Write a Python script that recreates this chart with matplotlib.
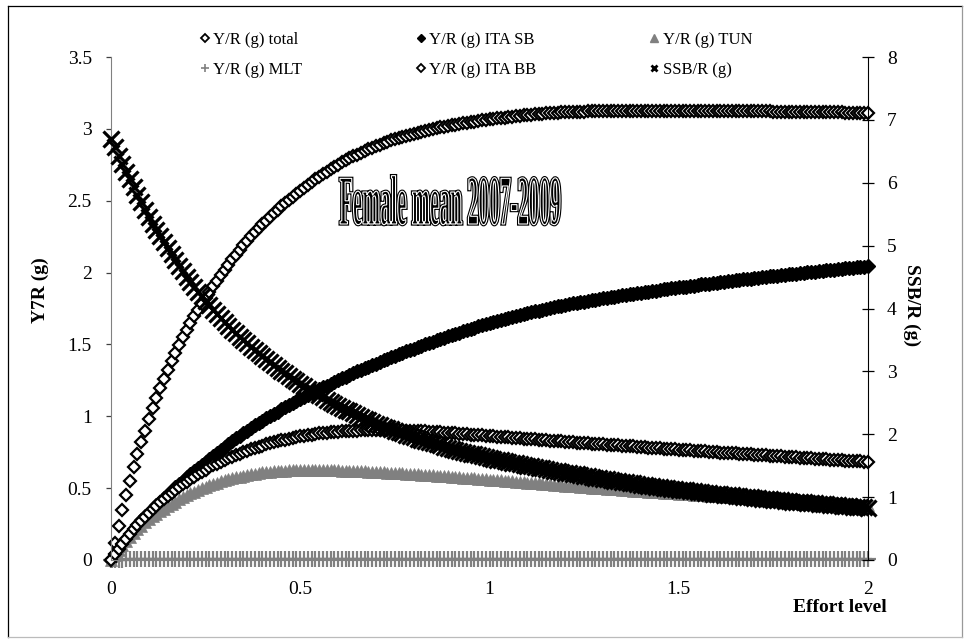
import numpy as np
import matplotlib
matplotlib.use("Agg")
import matplotlib.pyplot as plt
import matplotlib.patheffects as pe
from matplotlib.lines import Line2D
from matplotlib.textpath import TextPath
from matplotlib.patches import PathPatch
from matplotlib.font_manager import FontProperties
from matplotlib.transforms import Affine2D

plt.rcParams['font.family'] = ['Liberation Serif', 'DejaVu Serif']

W, H = 969, 639

# effort level grid, 0 .. 2 by 0.01
effort_level = np.linspace(0, 2, 201)

yr_total = [
    0.000, 0.120, 0.235, 0.345, 0.450, 0.550, 0.645, 0.735, 0.820, 0.900,
    0.980, 1.055, 1.125, 1.195, 1.260, 1.325, 1.385, 1.440, 1.495, 1.550,
    1.600, 1.648, 1.695, 1.740, 1.783, 1.825, 1.865, 1.905, 1.944, 1.982,
    2.020, 2.056, 2.091, 2.125, 2.158, 2.190, 2.221, 2.251, 2.280, 2.308,
    2.335, 2.361, 2.387, 2.412, 2.436, 2.460, 2.483, 2.506, 2.528, 2.550,
    2.571, 2.591, 2.611, 2.630, 2.649, 2.667, 2.685, 2.702, 2.719, 2.735,
    2.751, 2.766, 2.780, 2.794, 2.808, 2.821, 2.834, 2.846, 2.858, 2.869,
    2.880, 2.890, 2.900, 2.910, 2.919, 2.928, 2.937, 2.945, 2.953, 2.960,
    2.967, 2.974, 2.980, 2.986, 2.992, 2.998, 3.004, 3.010, 3.015, 3.020,
    3.025, 3.030, 3.035, 3.039, 3.043, 3.047, 3.051, 3.055, 3.059, 3.063,
    3.067, 3.070, 3.073, 3.076, 3.079, 3.082, 3.085, 3.088, 3.091, 3.094,
    3.097, 3.099, 3.101, 3.103, 3.105, 3.107, 3.109, 3.111, 3.113, 3.115,
    3.117, 3.118, 3.118, 3.119, 3.120, 3.120, 3.121, 3.121, 3.122, 3.122,
    3.123, 3.123, 3.124, 3.124, 3.124, 3.125, 3.125, 3.125, 3.125, 3.126,
    3.126, 3.126, 3.126, 3.126, 3.126, 3.126, 3.126, 3.126, 3.126, 3.126,
    3.126, 3.126, 3.126, 3.126, 3.125, 3.125, 3.125, 3.125, 3.124, 3.124,
    3.124, 3.124, 3.124, 3.123, 3.123, 3.123, 3.123, 3.122, 3.122, 3.122,
    3.122, 3.122, 3.121, 3.121, 3.121, 3.120, 3.120, 3.120, 3.119, 3.119,
    3.119, 3.119, 3.118, 3.118, 3.117, 3.117, 3.117, 3.116, 3.116, 3.115,
    3.115, 3.115, 3.114, 3.114, 3.113, 3.113, 3.113, 3.112, 3.112, 3.111,
    3.111,
]

yr_ita_sb = [
    0.000, 0.039, 0.077, 0.114, 0.149, 0.183, 0.215, 0.246, 0.275, 0.303,
    0.330, 0.356, 0.382, 0.407, 0.432, 0.457, 0.481, 0.505, 0.529, 0.552,
    0.575, 0.598, 0.620, 0.642, 0.664, 0.685, 0.706, 0.727, 0.748, 0.768,
    0.788, 0.808, 0.827, 0.846, 0.865, 0.883, 0.901, 0.919, 0.936, 0.953,
    0.970, 0.986, 1.002, 1.018, 1.033, 1.048, 1.063, 1.078, 1.093, 1.107,
    1.121, 1.135, 1.149, 1.162, 1.175, 1.188, 1.201, 1.214, 1.227, 1.240,
    1.252, 1.264, 1.276, 1.288, 1.300, 1.312, 1.323, 1.334, 1.345, 1.356,
    1.367, 1.378, 1.389, 1.399, 1.410, 1.420, 1.431, 1.441, 1.451, 1.461,
    1.471, 1.481, 1.491, 1.500, 1.510, 1.519, 1.529, 1.538, 1.547, 1.556,
    1.565, 1.574, 1.582, 1.591, 1.600, 1.608, 1.616, 1.625, 1.633, 1.641,
    1.649, 1.656, 1.663, 1.671, 1.678, 1.685, 1.692, 1.698, 1.705, 1.712,
    1.718, 1.724, 1.730, 1.736, 1.742, 1.748, 1.754, 1.759, 1.765, 1.770,
    1.776, 1.780, 1.785, 1.789, 1.794, 1.798, 1.803, 1.807, 1.812, 1.816,
    1.821, 1.825, 1.829, 1.833, 1.837, 1.841, 1.845, 1.849, 1.853, 1.857,
    1.861, 1.865, 1.868, 1.872, 1.875, 1.879, 1.883, 1.886, 1.890, 1.893,
    1.897, 1.900, 1.903, 1.907, 1.910, 1.913, 1.917, 1.920, 1.923, 1.927,
    1.930, 1.933, 1.936, 1.939, 1.942, 1.946, 1.949, 1.952, 1.955, 1.958,
    1.961, 1.964, 1.967, 1.970, 1.973, 1.975, 1.978, 1.981, 1.984, 1.987,
    1.990, 1.993, 1.996, 1.998, 2.001, 2.004, 2.007, 2.010, 2.012, 2.015,
    2.018, 2.021, 2.023, 2.026, 2.029, 2.031, 2.034, 2.037, 2.040, 2.042,
    2.045,
]

yr_tun = [
    0.000, 0.036, 0.070, 0.102, 0.133, 0.162, 0.189, 0.215, 0.239, 0.262,
    0.283, 0.303, 0.322, 0.340, 0.358, 0.375, 0.391, 0.407, 0.422, 0.436,
    0.450, 0.463, 0.476, 0.488, 0.499, 0.510, 0.520, 0.529, 0.538, 0.547,
    0.555, 0.562, 0.569, 0.575, 0.581, 0.587, 0.592, 0.597, 0.601, 0.605,
    0.609, 0.612, 0.615, 0.617, 0.619, 0.621, 0.622, 0.623, 0.624, 0.625,
    0.625, 0.626, 0.626, 0.626, 0.626, 0.625, 0.625, 0.625, 0.624, 0.624,
    0.623, 0.622, 0.621, 0.620, 0.619, 0.618, 0.617, 0.616, 0.615, 0.614,
    0.613, 0.611, 0.610, 0.608, 0.607, 0.605, 0.604, 0.602, 0.601, 0.599,
    0.598, 0.596, 0.594, 0.592, 0.591, 0.589, 0.587, 0.585, 0.584, 0.582,
    0.580, 0.578, 0.576, 0.574, 0.572, 0.570, 0.568, 0.566, 0.564, 0.562,
    0.560, 0.558, 0.556, 0.554, 0.551, 0.549, 0.547, 0.545, 0.543, 0.541,
    0.539, 0.537, 0.535, 0.533, 0.530, 0.528, 0.526, 0.524, 0.522, 0.520,
    0.518, 0.516, 0.514, 0.512, 0.510, 0.508, 0.506, 0.504, 0.502, 0.500,
    0.498, 0.496, 0.494, 0.492, 0.491, 0.489, 0.487, 0.485, 0.483, 0.481,
    0.479, 0.477, 0.476, 0.474, 0.472, 0.470, 0.468, 0.467, 0.465, 0.463,
    0.461, 0.459, 0.458, 0.456, 0.454, 0.453, 0.451, 0.449, 0.448, 0.446,
    0.444, 0.442, 0.441, 0.439, 0.438, 0.436, 0.434, 0.433, 0.431, 0.430,
    0.428, 0.427, 0.425, 0.424, 0.422, 0.421, 0.419, 0.418, 0.416, 0.415,
    0.413, 0.412, 0.410, 0.409, 0.407, 0.406, 0.404, 0.403, 0.401, 0.400,
    0.398, 0.397, 0.395, 0.394, 0.393, 0.391, 0.390, 0.388, 0.387, 0.386,
    0.384,
]

yr_mlt = [
    0.000, 0.001, 0.002, 0.003, 0.004, 0.005, 0.005, 0.006, 0.006, 0.007,
    0.007, 0.007, 0.008, 0.008, 0.008, 0.008, 0.008, 0.008, 0.008, 0.008,
    0.008, 0.008, 0.008, 0.008, 0.008, 0.008, 0.008, 0.008, 0.008, 0.008,
    0.009, 0.009, 0.009, 0.009, 0.009, 0.009, 0.009, 0.009, 0.009, 0.009,
    0.009, 0.009, 0.009, 0.009, 0.009, 0.009, 0.009, 0.009, 0.009, 0.009,
    0.009, 0.009, 0.009, 0.009, 0.009, 0.009, 0.009, 0.009, 0.009, 0.009,
    0.009, 0.009, 0.009, 0.009, 0.009, 0.009, 0.009, 0.009, 0.009, 0.009,
    0.009, 0.009, 0.009, 0.009, 0.009, 0.009, 0.009, 0.009, 0.009, 0.009,
    0.009, 0.009, 0.009, 0.009, 0.009, 0.009, 0.009, 0.009, 0.009, 0.009,
    0.009, 0.009, 0.009, 0.009, 0.009, 0.009, 0.009, 0.009, 0.009, 0.009,
    0.009, 0.009, 0.009, 0.009, 0.009, 0.009, 0.009, 0.009, 0.009, 0.009,
    0.009, 0.009, 0.009, 0.009, 0.009, 0.009, 0.009, 0.009, 0.009, 0.009,
    0.008, 0.008, 0.008, 0.008, 0.008, 0.008, 0.008, 0.008, 0.008, 0.008,
    0.008, 0.008, 0.008, 0.008, 0.008, 0.008, 0.008, 0.008, 0.008, 0.008,
    0.008, 0.008, 0.008, 0.008, 0.008, 0.008, 0.008, 0.008, 0.008, 0.008,
    0.008, 0.008, 0.008, 0.008, 0.008, 0.008, 0.008, 0.008, 0.008, 0.008,
    0.008, 0.008, 0.008, 0.008, 0.008, 0.008, 0.008, 0.008, 0.008, 0.008,
    0.008, 0.008, 0.008, 0.008, 0.008, 0.008, 0.008, 0.008, 0.008, 0.008,
    0.008, 0.008, 0.008, 0.008, 0.008, 0.008, 0.008, 0.008, 0.008, 0.008,
    0.008, 0.008, 0.008, 0.008, 0.008, 0.008, 0.008, 0.008, 0.008, 0.008,
    0.008,
]

yr_ita_bb = [
    0.000, 0.039, 0.077, 0.113, 0.148, 0.181, 0.213, 0.243, 0.272, 0.300,
    0.327, 0.353, 0.378, 0.402, 0.425, 0.447, 0.468, 0.489, 0.509, 0.528,
    0.546, 0.564, 0.581, 0.598, 0.614, 0.629, 0.644, 0.658, 0.671, 0.684,
    0.696, 0.708, 0.719, 0.730, 0.741, 0.751, 0.761, 0.770, 0.779, 0.788,
    0.796, 0.804, 0.811, 0.818, 0.825, 0.832, 0.838, 0.844, 0.850, 0.855,
    0.860, 0.865, 0.869, 0.873, 0.877, 0.881, 0.884, 0.887, 0.890, 0.892,
    0.894, 0.896, 0.898, 0.899, 0.900, 0.901, 0.902, 0.903, 0.903, 0.904,
    0.904, 0.904, 0.904, 0.904, 0.903, 0.903, 0.902, 0.902, 0.901, 0.900,
    0.899, 0.898, 0.896, 0.895, 0.893, 0.892, 0.890, 0.888, 0.886, 0.885,
    0.883, 0.881, 0.879, 0.877, 0.875, 0.873, 0.871, 0.869, 0.867, 0.865,
    0.863, 0.861, 0.859, 0.857, 0.855, 0.853, 0.851, 0.849, 0.847, 0.845,
    0.843, 0.841, 0.839, 0.837, 0.835, 0.833, 0.831, 0.829, 0.827, 0.825,
    0.823, 0.821, 0.819, 0.817, 0.815, 0.814, 0.812, 0.810, 0.808, 0.806,
    0.804, 0.802, 0.800, 0.799, 0.797, 0.795, 0.793, 0.791, 0.790, 0.788,
    0.786, 0.784, 0.782, 0.781, 0.779, 0.777, 0.775, 0.773, 0.772, 0.770,
    0.768, 0.766, 0.764, 0.763, 0.761, 0.759, 0.757, 0.755, 0.754, 0.752,
    0.750, 0.748, 0.747, 0.745, 0.743, 0.742, 0.740, 0.738, 0.737, 0.735,
    0.733, 0.731, 0.730, 0.728, 0.726, 0.725, 0.723, 0.721, 0.720, 0.718,
    0.716, 0.714, 0.713, 0.711, 0.709, 0.708, 0.706, 0.704, 0.703, 0.701,
    0.699, 0.697, 0.696, 0.694, 0.692, 0.691, 0.689, 0.687, 0.686, 0.684,
    0.682,
]

# SSB/R (g), secondary axis
ssb_r = [
    6.700, 6.565, 6.433, 6.304, 6.177, 6.052, 5.929, 5.808, 5.688, 5.568,
    5.450, 5.345, 5.244, 5.146, 5.050, 4.955, 4.862, 4.770, 4.679, 4.589,
    4.500, 4.421, 4.344, 4.269, 4.196, 4.124, 4.053, 3.983, 3.914, 3.846,
    3.780, 3.722, 3.665, 3.609, 3.554, 3.500, 3.446, 3.393, 3.341, 3.290,
    3.240, 3.193, 3.147, 3.102, 3.057, 3.013, 2.969, 2.926, 2.883, 2.841,
    2.800, 2.763, 2.727, 2.691, 2.656, 2.621, 2.586, 2.552, 2.518, 2.484,
    2.450, 2.420, 2.391, 2.362, 2.334, 2.306, 2.278, 2.250, 2.223, 2.196,
    2.170, 2.146, 2.123, 2.100, 2.078, 2.056, 2.034, 2.013, 1.992, 1.971,
    1.950, 1.931, 1.912, 1.894, 1.876, 1.858, 1.840, 1.822, 1.804, 1.787,
    1.770, 1.754, 1.738, 1.723, 1.708, 1.693, 1.678, 1.663, 1.648, 1.634,
    1.620, 1.608, 1.596, 1.584, 1.572, 1.560, 1.548, 1.536, 1.524, 1.512,
    1.500, 1.489, 1.478, 1.467, 1.456, 1.445, 1.434, 1.423, 1.412, 1.401,
    1.390, 1.380, 1.370, 1.360, 1.350, 1.340, 1.330, 1.320, 1.310, 1.300,
    1.290, 1.281, 1.272, 1.263, 1.254, 1.245, 1.236, 1.227, 1.218, 1.209,
    1.200, 1.192, 1.184, 1.176, 1.168, 1.160, 1.152, 1.144, 1.136, 1.128,
    1.120, 1.113, 1.106, 1.099, 1.092, 1.085, 1.078, 1.071, 1.064, 1.057,
    1.050, 1.044, 1.038, 1.032, 1.026, 1.020, 1.014, 1.008, 1.002, 0.996,
    0.990, 0.984, 0.978, 0.972, 0.966, 0.960, 0.954, 0.948, 0.942, 0.936,
    0.930, 0.925, 0.920, 0.915, 0.910, 0.905, 0.900, 0.895, 0.890, 0.885,
    0.880, 0.875, 0.870, 0.865, 0.860, 0.855, 0.850, 0.845, 0.840, 0.835,
    0.830,
]

x_ticks = [0, 0.5, 1, 1.5, 2]
x_tick_labels = ['0', '0.5', '1', '1.5', '2']
left_ticks = [0, 0.5, 1, 1.5, 2, 2.5, 3, 3.5]
left_tick_labels = ['0', '0.5', '1', '1.5', '2', '2.5', '3', '3.5']
right_ticks = [0, 1, 2, 3, 4, 5, 6, 7, 8]

labels = ['Y/R (g) total', 'Y/R (g) MLT', 'Y/R (g) ITA SB',
          'Y/R (g) ITA BB', 'Y/R (g) TUN', 'SSB/R (g)']

GRAY = '#808080'

fig = plt.figure(figsize=(W / 100, H / 100), dpi=100)
ax = fig.add_axes([111 / W, 79 / H, 757 / W, 503 / H])
ax2 = ax.twinx()

# primary axis series
ax.plot(effort_level, yr_total, ls='none', marker='D', ms=6.6, mfc='white',
        mec='black', mew=1.6, clip_on=False)
ax.plot(effort_level, yr_ita_sb, ls='none', marker='D', ms=7.2, mfc='black',
        mec='black', mew=1.0, clip_on=False)
ax.plot(effort_level, yr_tun, ls='none', marker='^', ms=9, mfc=GRAY,
        mec=GRAY, mew=0.5, clip_on=False)
ax.plot(effort_level, yr_mlt, ls='none', marker='+', ms=11.5, mec=GRAY,
        mew=1.6, clip_on=False)
ax.plot(effort_level, yr_ita_bb, ls='none', marker='D', ms=6.6, mfc='white',
        mec='black', mew=1.6, clip_on=False)
# secondary axis series
ax2.plot(effort_level, ssb_r, ls='none', marker='x', ms=11.5, mec='black',
         mew=2.3, clip_on=False)

ax.set_xlim(0, 2)
ax.set_ylim(0, 3.5)
ax2.set_ylim(0, 8)

ax.set_xticks(x_ticks)
ax.set_xticklabels(x_tick_labels)
ax.set_yticks(left_ticks)
ax.set_yticklabels(left_tick_labels)
ax2.set_yticks(right_ticks)

ax.tick_params(axis='x', length=0, pad=15, labelsize=14)
ax.tick_params(axis='y', direction='out', length=3.8, width=0.9, color='#404040',
               pad=10, labelsize=14)
ax2.tick_params(axis='y', direction='inout', length=9, width=0.9, color='black',
                pad=9, labelsize=14)

for sp in ['top', 'right']:
    ax.spines[sp].set_visible(False)
ax.spines['left'].set_color(GRAY)
ax.spines['bottom'].set_color(GRAY)
for sp in ['top', 'left', 'bottom']:
    ax2.spines[sp].set_visible(False)
ax2.spines['right'].set_color('black')

# axis titles
fig.text(40 / W, 1 - 290 / H, 'Y7R (g)', rotation=90, ha='center', va='center',
         fontsize=14, fontweight='bold')
fig.text(912 / W, 1 - 305 / H, 'SSB/R (g)', rotation=270, ha='center', va='center',
         fontsize=14, fontweight='bold')
fig.text(887 / W, 1 - 608 / H, 'Effort level', ha='right', va='center',
         fontsize=14, fontweight='bold')

# legend
handles = [
    Line2D([], [], ls='none', marker='D', ms=3.6, mfc='white', mec='black', mew=1.3),
    Line2D([], [], ls='none', marker='+', ms=6, mec=GRAY, mew=1.2),
    Line2D([], [], ls='none', marker='D', ms=3.6, mfc='black', mec='black', mew=1.0),
    Line2D([], [], ls='none', marker='D', ms=3.6, mfc='white', mec='black', mew=1.3),
    Line2D([], [], ls='none', marker='^', ms=5.5, mfc=GRAY, mec=GRAY),
    Line2D([], [], ls='none', marker='x', ms=5, mec='black', mew=2.0),
]
fig.legend(handles=handles, labels=labels, ncol=3, loc='upper left',
           bbox_to_anchor=(199 / W, 1 - 32 / H), frameon=False, fontsize=12,
           handlelength=0.7, handletextpad=0.15, columnspacing=6.75,
           labelspacing=0.85, borderpad=0, borderaxespad=0)

# word-art style inset title
title_text = 'Female mean 2007-2009'
fp = FontProperties(family='Liberation Serif', weight='bold')
tp = TextPath((0, 0), title_text, size=1, prop=fp)
ext = tp.get_extents()
sx = 220 / ext.width
sy = 46 / 0.66
tr = (Affine2D().translate(-ext.x0, 0).scale(sx / W, sy / H)
      .translate(340 / W, (H - 224) / H) + fig.transFigure)
title_patch = PathPatch(tp, transform=tr, fc='black', ec='white', lw=0.8)
title_patch.set_path_effects([pe.Stroke(linewidth=2.4, foreground='black'), pe.Normal()])
fig.add_artist(title_patch)

# chart area border
fig.add_artist(Line2D([8 / W, 8 / W], [1 - 637 / H, 1 - 6 / H], color='black', lw=0.9,
                      transform=fig.transFigure))
fig.add_artist(Line2D([8 / W, 962 / W], [1 - 6 / H, 1 - 6 / H], color='black', lw=0.9,
                      transform=fig.transFigure))
fig.add_artist(Line2D([962 / W, 962 / W], [1 - 637 / H, 1 - 6 / H], color='#999999',
                      lw=0.9, transform=fig.transFigure))
fig.add_artist(Line2D([8 / W, 962 / W], [1 - 637 / H, 1 - 637 / H], color='#bbbbbb',
                      lw=0.9, transform=fig.transFigure))

fig.savefig('out.png', dpi=100)
